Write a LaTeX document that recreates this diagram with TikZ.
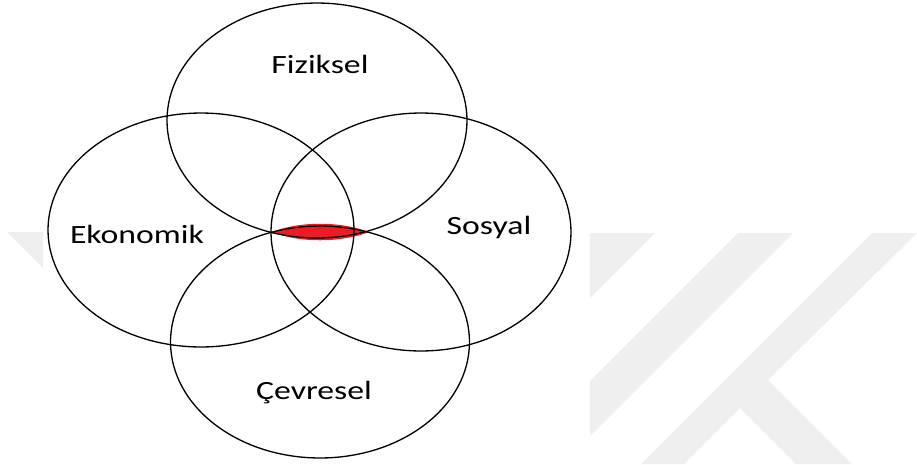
\documentclass[tikz,border=0pt]{standalone}
\usepackage{fontspec}
\setmainfont{Carlito}
\definecolor{lensred}{RGB}{237,28,36}
\definecolor{wmgray}{RGB}{239,239,239}
\tikzset{
	ring/.style={draw=black, line width=0.75pt},
	dimtext/.style={anchor=base, inner sep=0pt, font=\fontsize{15}{18}\selectfont},
	wmark/.style={fill=wmgray, draw=none}
}
\newcommand{\wide}[1]{\scalebox{1.28}[1]{#1}}

\begin{document}
\begin{tikzpicture}[x=0.02cm, y=-0.02cm]
				\useasboundingbox (0,0) rectangle (917,464);
				\fill [wmark] (7,232) -- (43,232) -- (43,268) -- cycle;
				\fill [wmark] (590,233) -- (655,233) -- (590,298) -- cycle;
				\fill [wmark] (738,233) -- (793,233) -- (590,436) -- (590,381) -- cycle;
				\fill [wmark] (872,233) -- (917,233) -- (768,380) -- (852,464) --
				(796,464) -- (740,408) -- (684,464) -- (641,464) -- cycle;
				\coordinate (fizc) at (317,120.5);
				\coordinate (ekoc) at (201,230);
				\coordinate (sosc) at (421,232);
				\coordinate (cevc) at (320,342);
				\coordinate (lensl) at (272,232);
				\coordinate (lensr) at (369,232);
				\fill [lensred] (lensl) .. controls (300,221) and (340,221) .. (lensr)
				.. controls (340,243) and (300,243) .. (lensl) -- cycle;
				\draw [ring] (fizc) ellipse [x radius=3cm, y radius=2.35cm];
				\draw [ring] (ekoc) ellipse [x radius=3.06cm, y radius=2.34cm];
				\draw [ring] (sosc) ellipse [x radius=3cm, y radius=2.38cm];
				\draw [ring] (cevc) ellipse [x radius=2.99cm, y radius=2.32cm];
				\node (fiz) at (320,73) [dimtext] {\wide{Fiziksel}};
				\node (eko) at (137,243) [dimtext] {\wide{Ekonomik}};
				\node (sos) at (489,234) [dimtext] {\wide{Sosyal}};
				\node (cev) at (314,399) [dimtext] {\wide{Çevresel}};
			\end{tikzpicture}
\end{document}
